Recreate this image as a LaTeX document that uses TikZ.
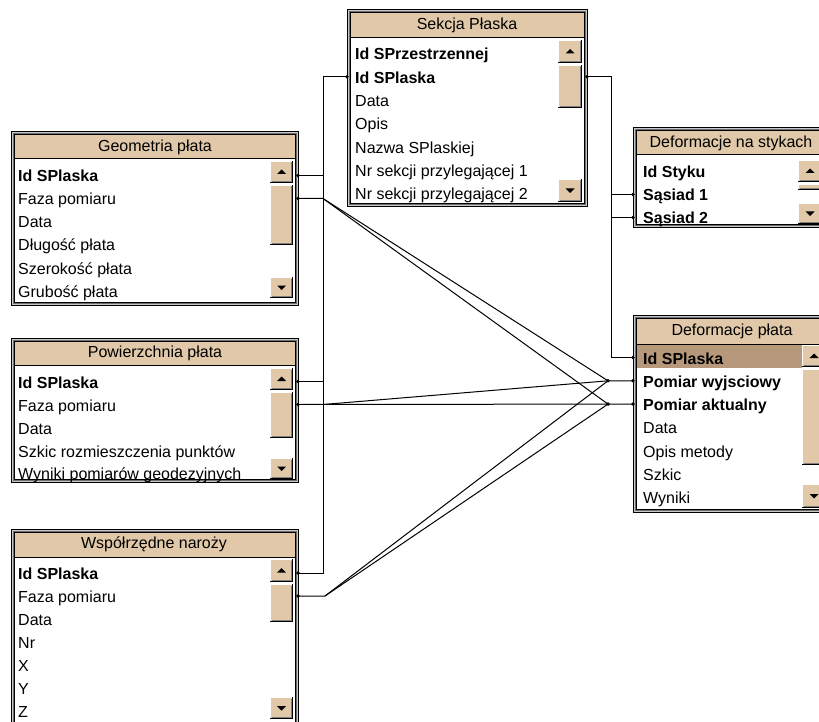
\documentclass[tikz,border=0pt]{standalone}
\usepackage{fontspec}
\setmainfont{Liberation Sans}
\definecolor{hdrtan}{RGB}{224,200,168}
\definecolor{hilite}{RGB}{184,152,122}
\definecolor{framegray}{RGB}{200,200,200}
\definecolor{framedark}{RGB}{110,110,110}
\newcommand\rowfont{\fontsize{16}{19}\selectfont}
\tikzset{
  tframe/.style={draw=black, fill=framegray, line width=1pt, inner sep=0pt, outer sep=0pt, anchor=north west},
  row/.style={anchor=base west, inner sep=0pt, text height=13pt, text depth=0pt, font=\rowfont},
  key/.style={row, font=\rowfont\bfseries},
  ttl/.style={inner sep=0pt, font=\rowfont},
  conn/.style={line width=1pt, black},
  port/.style={black},
}
% table frame: name, x1, y1, x2, y2, header bottom, title, title centre x
\newcommand\tbl[8]{%
  \node[tframe, minimum width={(#4-#2)*1pt}, minimum height={(#5-#3)*1pt}] (#1) at (#2,#3) {};
  \draw[framedark, line width=1pt] (#2+2,#3+2) rectangle (#4-2,#5-2);
  \filldraw[fill=white, draw=black, line width=1pt] (#2+3,#3+3) rectangle (#4-3,#5-3);
  \filldraw[fill=hdrtan, draw=black, line width=1pt] (#2+3,#3+3) rectangle (#4-3,#6);
  \node[ttl] (#1T) at (#8,{(#3+3+#6)/2}) {#7};
}
\newcommand\btn[4]{%
  \fill[hdrtan] (#1,#2) rectangle (#3,#4);
  \draw[white, line width=1pt] (#1+0.5,#4-1) -- (#1+0.5,#2+0.5) -- (#3-1,#2+0.5);
  \draw[gray, line width=1pt] (#1+1.5,#4-1.5) -- (#3-1.5,#4-1.5) -- (#3-1.5,#2+1.5);
  \draw[black, line width=1pt] (#1,#4-0.5) -- (#3-0.5,#4-0.5) -- (#3-0.5,#2);
}
% scrollbar: x1 x2 up1 up2 th1 th2 dn1 dn2
\newcommand\sbar[8]{%
  \btn{#1}{#3}{#2}{#4}
  \fill ({(#1+#2)/2-4.5},{(#3+#4)/2+2}) -- ++(9,0) -- ++(-4.5,-4.5) -- cycle;
  \btn{#1}{#5}{#2}{#6}
  \btn{#1}{#7}{#2}{#8}
  \fill ({(#1+#2)/2-4.5},{(#7+#8)/2-2}) -- ++(9,0) -- ++(-4.5,4.5) -- cycle;
}
\begin{document}
\begin{tikzpicture}[x=1pt,y=-1pt]
\useasboundingbox (0,0) rectangle (819,722);
\clip (0,0) rectangle (819,722);
\fill[white] (0,0) rectangle (819,722);

% ---------- Sekcja Płaska
\tbl{sek}{347}{10}{587}{207}{38}{Sekcja Płaska}{467}
\node[key] (sekR1) at (355,60) {Id SPrzestrzennej};
\node[key] (sekR2) at (355,83.3) {Id SPlaska};
\node[row] (sekR3) at (355,106.6) {Data};
\node[row] (sekR4) at (355,129.9) {Opis};
\node[row] (sekR5) at (355,153.2) {Nazwa SPlaskiej};
\node[row] (sekR6) at (355,176.5) {Nr sekcji przylegającej 1};
\node[row] (sekR7) at (355,199.8) {Nr sekcji przylegającej 2};
\sbar{558}{582}{40}{63}{65}{108}{179}{202}

% ---------- Geometria płata
\tbl{geo}{11}{132}{298}{305}{159}{Geometria płata}{155}
\node[key] (geoR1) at (18,182) {Id SPlaska};
\node[row] (geoR2) at (18,205) {Faza pomiaru};
\node[row] (geoR3) at (18,228) {Data};
\node[row] (geoR4) at (18,251) {Długość płata};
\node[row] (geoR5) at (18,274) {Szerokość płata};
\node[row] (geoR6) at (18,297) {Grubość płata};
\sbar{270}{293}{161}{183}{185}{245}{277}{298}

% ---------- Powierzchnia płata
\tbl{pow}{11}{338}{298}{482}{365}{Powierzchnia płata}{155}
\node[key] (powR1) at (18,388) {Id SPlaska};
\node[row] (powR2) at (18,411) {Faza pomiaru};
\node[row] (powR3) at (18,434) {Data};
\node[row] (powR4) at (18,457) {Szkic rozmieszczenia punktów};
\node[row] (powR5) at (18,479) {Wyniki pomiarów geodezyjnych};
\sbar{270}{293}{368}{390}{392}{438}{458}{479}

% ---------- Współrzędne naroży
\tbl{wsp}{11}{529}{298}{728}{557}{Współrzędne naroży}{154}
\node[key] (wspR1) at (18,579.5) {Id SPlaska};
\node[row] (wspR2) at (18,602.5) {Faza pomiaru};
\node[row] (wspR3) at (18,625.5) {Data};
\node[row] (wspR4) at (18,648.5) {Nr};
\node[row] (wspR5) at (18,671.5) {X};
\node[row] (wspR6) at (18,694.5) {Y};
\node[row] (wspR7) at (18,717.5) {Z};
\sbar{270}{293}{559}{582}{584}{622}{697}{719}

% ---------- Deformacje na stykach
\tbl{sty}{633}{128}{840}{228}{155}{Deformacje na stykach}{731}
\node[key] (styR1) at (643,178) {Id Styku};
\node[key] (styR2) at (643,201) {Sąsiad 1};
\node[key] (styR3) at (643,224) {Sąsiad 2};
\sbar{798}{822}{160}{182}{184}{190}{203}{224}

% ---------- Deformacje płata
\tbl{def}{633}{315}{840}{512}{344}{Deformacje płata}{732}
\fill[hilite] (637,345) rectangle (802,368);
\node[key] (defR1) at (643,364) {Id SPlaska};
\node[key] (defR2) at (643,387.3) {Pomiar wyjsciowy};
\node[key] (defR3) at (643,410.6) {Pomiar aktualny};
\node[row] (defR4) at (643,433.9) {Data};
\node[row] (defR5) at (643,457.2) {Opis metody};
\node[row] (defR6) at (643,480.5) {Szkic};
\node[row] (defR7) at (643,503.8) {Wyniki};
\sbar{802}{826}{345}{367}{369}{465}{484}{508}

% ---------- connectors
\coordinate (busL) at (323,0);
\coordinate (busR) at (611,0);
\coordinate (jx) at (608,0);
\coordinate (J1) at (jx |- defR2);
\coordinate (J2) at (jx |- defR3);
\coordinate (wspF) at (325,0);

\draw[conn] (sek.west |- sekR2) -- (busL |- sekR2) -- (busL |- wspR1) -- (wsp.east |- wspR1);
\draw[conn] (geo.east |- geoR1) -- (busL |- geoR1);
\draw[conn] (pow.east |- powR1) -- (busL |- powR1);

\draw[conn] (sek.east |- sekR2) -- (busR |- sekR2) -- (busR |- defR1) -- (def.west |- defR1);
\draw[conn] (busR |- styR2) -- (sty.west |- styR2);
\draw[conn] (busR |- styR3) -- (sty.west |- styR3);

\draw[conn] (geo.east |- geoR2) -- (busL |- geoR2) -- (J1) -- (def.west |- defR2);
\draw[conn] (busL |- geoR2) -- (J2) -- (def.west |- defR3);
\draw[conn] (pow.east |- powR2) -- (J2);
\draw[conn] (busL |- powR2) -- (J1);
\draw[conn] (wsp.east |- wspR2) -- (wspF |- wspR2) -- (J1);
\draw[conn] (wspF |- wspR2) -- (J2);

\foreach \p in {sek.west |- sekR2, sek.east |- sekR2, geo.east |- geoR1, geo.east |- geoR2,
  pow.east |- powR1, pow.east |- powR2, wsp.east |- wspR1, wsp.east |- wspR2,
  sty.west |- styR2, sty.west |- styR3, def.west |- defR1, def.west |- defR2, def.west |- defR3, J1, J2}
  \fill[port] (\p) circle (1.9);
\end{tikzpicture}
\end{document}
